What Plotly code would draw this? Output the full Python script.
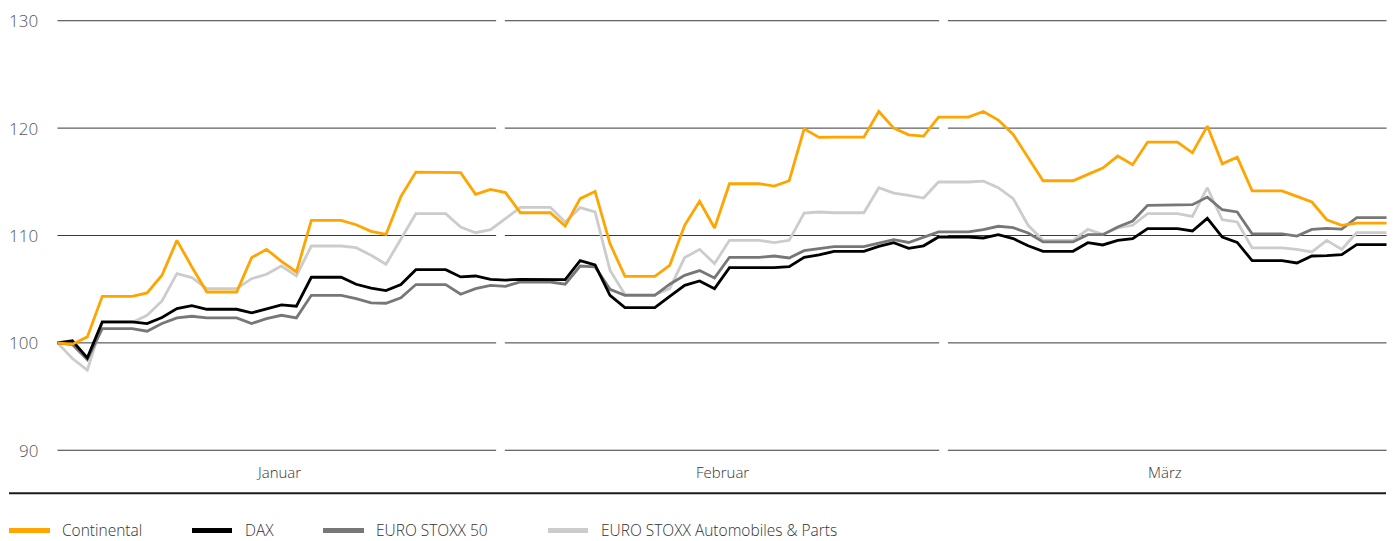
import pandas as pd
import plotly.graph_objects as go

# ---------------- data ----------------
dates = pd.date_range("2019-01-01", "2019-03-31", freq="D")

continental = [
    100.0, 99.88, 100.56, 104.34, 104.34, 104.34, 104.65, 106.3, 109.55, 107.07,
    104.74, 104.74, 104.74, 107.94, 108.71, 107.6, 106.6, 111.41, 111.41, 111.41,
    111.0, 110.39, 110.1, 113.64, 115.91, 115.91, 115.91, 115.85, 113.83, 114.29,
    114.0, 112.12, 112.12, 112.12, 110.88, 113.43, 114.11, 109.24, 106.2, 106.2,
    106.2, 107.22, 110.95, 113.18, 110.7, 114.82, 114.82, 114.82, 114.6, 115.1,
    119.94, 119.13, 119.16, 119.16, 119.16, 121.55, 120.0, 119.38, 119.26, 121.02,
    121.02, 121.02, 121.55, 120.75, 119.41, 117.3, 115.1, 115.1, 115.1, 115.69,
    116.28, 117.4, 116.59, 118.7, 118.7, 118.7, 117.7, 120.19, 116.68, 117.3,
    114.15, 114.15, 114.15, 113.64, 113.12, 111.47, 110.95, 111.16, 111.16, 111.16,
]

dax = [
    100.0, 100.19, 98.6, 101.95, 101.95, 101.95, 101.8, 102.36, 103.19, 103.47,
    103.13, 103.13, 103.13, 102.79, 103.13, 103.53, 103.41, 106.11, 106.11, 106.11,
    105.46, 105.09, 104.87, 105.43, 106.82, 106.82, 106.82, 106.14, 106.23, 105.92,
    105.85, 105.92, 105.92, 105.92, 105.89, 107.66, 107.26, 104.43, 103.29, 103.29,
    103.29, 104.34, 105.36, 105.77, 105.05, 107.01, 107.01, 107.01, 107.0, 107.1,
    107.97, 108.19, 108.53, 108.53, 108.53, 108.99, 109.33, 108.8, 109.04, 109.86,
    109.86, 109.86, 109.77, 110.08, 109.71, 109.05, 108.53, 108.53, 108.53, 109.33,
    109.12, 109.55, 109.71, 110.64, 110.64, 110.64, 110.42, 111.6, 109.86, 109.36,
    107.66, 107.66, 107.66, 107.44, 108.09, 108.12, 108.22, 109.15, 109.15, 109.15,
]

euro_stoxx_50 = [
    100.0, 99.85, 98.45, 101.33, 101.33, 101.33, 101.09, 101.8, 102.33, 102.48,
    102.33, 102.33, 102.33, 101.8, 102.26, 102.57, 102.33, 104.43, 104.43, 104.43,
    104.12, 103.72, 103.69, 104.19, 105.43, 105.43, 105.43, 104.53, 105.05, 105.36,
    105.27, 105.67, 105.67, 105.67, 105.46, 107.16, 107.07, 104.99, 104.43, 104.43,
    104.43, 105.46, 106.29, 106.73, 106.05, 107.97, 107.97, 107.97, 108.09, 107.91,
    108.59, 108.74, 108.96, 108.96, 108.96, 109.3, 109.61, 109.35, 109.83, 110.33,
    110.33, 110.33, 110.54, 110.86, 110.73, 110.23, 109.4, 109.4, 109.4, 110.08,
    110.08, 110.79, 111.35, 112.81, 112.81, 112.81, 112.87, 113.58, 112.4, 112.19,
    110.15, 110.15, 110.15, 109.95, 110.57, 110.67, 110.6, 111.66, 111.66, 111.66,
]

euro_stoxx_auto = [
    100.0, 98.54, 97.46, 101.9, 101.9, 101.9, 102.57, 103.9, 106.45, 106.08,
    105.05, 105.05, 105.05, 105.98, 106.39, 107.16, 106.23, 109.02, 109.02, 109.02,
    108.87, 108.16, 107.32, 109.71, 112.03, 112.03, 112.03, 110.79, 110.26, 110.54,
    111.57, 112.62, 112.62, 112.62, 111.26, 112.59, 112.19, 106.76, 104.5, 104.5,
    104.5, 105.05, 107.94, 108.71, 107.38, 109.55, 109.55, 109.55, 109.33, 109.55,
    112.09, 112.19, 112.12, 112.12, 112.12, 114.45, 113.95, 113.74, 113.49, 114.98,
    114.98, 114.98, 115.07, 114.45, 113.43, 110.95, 109.55, 109.55, 109.55, 110.57,
    110.11, 110.7, 110.95, 112.03, 112.03, 112.03, 111.78, 114.45, 111.47, 111.26,
    108.84, 108.84, 108.84, 108.71, 108.47, 109.55, 108.71, 110.26, 110.26, 110.26,
]

series_names = ["Continental", "DAX", "EURO STOXX 50", "EURO STOXX Automobiles & Parts"]
series_colors = ["#ffa500", "#000000", "#777777", "#cccccc"]
month_labels = ["Januar", "Februar", "März"]
y_ticks = [90, 100, 110, 120, 130]

# ---------------- figure ----------------
FONT = "Open Sans"
W, H = 1394, 541
ML, MR, MT, MB = 50, 0, 10, 80
PW, PH = W - ML - MR, H - MT - MB


def px_x(p):
    return (p - ML) / PW


def px_y(p):
    return 1 - (p - MT) / PH


fig = go.Figure()
values = [continental, dax, euro_stoxx_50, euro_stoxx_auto]
# draw lightest first so that Continental sits on top
for name, col, vals in reversed(list(zip(series_names, series_colors, values))):
    fig.add_trace(go.Scatter(x=dates, y=vals, mode="lines", name=name,
                             line=dict(color=col, width=2.8), showlegend=False,
                             hoverinfo="x+y+name"))

start, end = dates[0], dates[-1]
span = (end - start) / pd.Timedelta(days=1)
bounds = [start + pd.Timedelta(days=span * k / 3) for k in range(4)]
gap = pd.Timedelta(hours=7)

shapes = []
for yv in y_ticks:
    for k in range(3):
        x0 = bounds[k] + (gap if k > 0 else pd.Timedelta(0))
        x1 = bounds[k + 1] - (gap if k < 2 else pd.Timedelta(0))
        shapes.append(dict(type="line", xref="x", yref="y", x0=x0, x1=x1,
                           y0=yv, y1=yv, line=dict(color="#3a3a3a", width=1),
                           layer="below"))

# bottom rule
shapes.append(dict(type="line", xref="paper", yref="paper",
                   x0=px_x(9), x1=px_x(1386), y0=px_y(493.3), y1=px_y(493.3),
                   line=dict(color="#1a1a1a", width=2)))

annotations = []
for yv in y_ticks:
    annotations.append(dict(xref="paper", yref="y", x=0, y=yv, text=str(yv),
                            showarrow=False, xanchor="right", yanchor="middle",
                            xshift=-10,
                            font=dict(family=FONT, size=17, color="#555555", weight=300)))

for k, lab in enumerate(month_labels):
    cx = bounds[k] + (bounds[k + 1] - bounds[k]) / 2
    annotations.append(dict(xref="x", yref="paper", x=cx, y=px_y(472), text=lab,
                            showarrow=False, xanchor="center", yanchor="middle",
                            font=dict(family=FONT, size=15, color="#333333", weight=300)))

# legend (manual)
leg_swatch = [(9, 50), (192, 232), (323, 364), (548, 588)]
leg_text_x = [62, 245, 376, 601]
ly = px_y(530.5)
for (s0, s1), tx, name, col in zip(leg_swatch, leg_text_x, series_names, series_colors):
    shapes.append(dict(type="line", xref="paper", yref="paper",
                       x0=px_x(s0), x1=px_x(s1), y0=ly, y1=ly,
                       line=dict(color=col, width=5)))
    annotations.append(dict(xref="paper", yref="paper", x=px_x(tx - 2), y=px_y(529.5),
                            text=name, showarrow=False, xanchor="left",
                            yanchor="middle",
                            font=dict(family=FONT, size=15.5, color="#333333", weight=300)))

x_lo = start - pd.Timedelta(hours=12)
x_hi = end + pd.Timedelta(hours=12)

fig.update_layout(
    width=W, height=H,
    margin=dict(l=ML, r=MR, t=MT, b=MB, pad=0),
    paper_bgcolor="white", plot_bgcolor="white",
    xaxis=dict(range=[x_lo, x_hi], visible=False, showgrid=False, zeroline=False),
    yaxis=dict(range=[89, 131], showgrid=False, zeroline=False,
               showticklabels=False, ticks=""),
    shapes=shapes, annotations=annotations,
    showlegend=False,
    font=dict(family=FONT),
)

fig.write_html(
    "out.html",
    config={"displayModeBar": False},
    post_script="document.body.style.margin='0';document.body.style.padding='0';"
                "document.body.style.overflow='hidden';",
)
